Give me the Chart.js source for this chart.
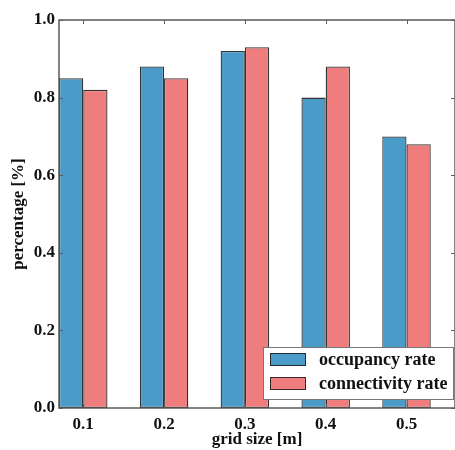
<!DOCTYPE html>
<html>
<head>
<meta charset="UTF-8">
<title>grid size</title>
<script src="https://cdn.jsdelivr.net/npm/chart.js"></script>
<style>
  html, body { margin: 0; padding: 0; background: #fff; overflow: hidden; }
  #wrap { width: 455px; height: 450px; }
</style>
</head>
<body>
<div id="wrap"><canvas id="chart" width="455" height="450"></canvas></div>
<script>
const gridSizes = [0.1, 0.2, 0.3, 0.4, 0.5];
const occupancyRate = [0.85, 0.88, 0.92, 0.80, 0.70];
const connectivityRate = [0.82, 0.85, 0.93, 0.88, 0.68];
const yTickValues = [0, 0.2, 0.4, 0.6, 0.8, 1.0];

const serif = '"Liberation Serif", "Times New Roman", serif';
const blue = '#4a9bc7';
const red = '#f07d7e';
const edge = 'rgba(30,30,30,0.9)';
const spine = '#5a5a5a';

// spines, inward ticks and the boxed legend, matplotlib style
const decor = {
  id: 'decor',
  afterDraw(chart) {
    const { ctx, chartArea: a, scales } = chart;
    ctx.save();
    ctx.strokeStyle = spine;
    ctx.lineWidth = 1.5;
    ctx.strokeRect(a.left, a.top, a.right - a.left, a.bottom - a.top);

    ctx.lineWidth = 1;
    ctx.beginPath();
    scales.x.ticks.forEach(t => {
      const px = Math.round(scales.x.getPixelForValue(t.value)) + 0.5;
      ctx.moveTo(px, a.top); ctx.lineTo(px, a.top + 4);
      ctx.moveTo(px, a.bottom); ctx.lineTo(px, a.bottom - 4);
    });
    scales.y.ticks.forEach(t => {
      const py = Math.round(scales.y.getPixelForValue(t.value)) + 0.5;
      ctx.moveTo(a.left, py); ctx.lineTo(a.left + 4, py);
      ctx.moveTo(a.right, py); ctx.lineTo(a.right - 4, py);
    });
    ctx.stroke();

    // legend box
    const bx = a.right - 192, by = a.bottom - 61, bw = 190, bh = 52;
    ctx.fillStyle = '#fff';
    ctx.fillRect(bx, by, bw, bh);
    ctx.strokeStyle = '#777';
    ctx.lineWidth = 1;
    ctx.strokeRect(bx + 0.5, by + 0.5, bw, bh);
    ctx.font = 'bold 18px ' + serif;
    ctx.textBaseline = 'middle';
    chart.data.datasets.forEach((ds, i) => {
      const ry = by + 6 + i * 24;
      ctx.fillStyle = ds.backgroundColor;
      ctx.fillRect(bx + 7, ry, 36, 13);
      ctx.strokeStyle = edge;
      ctx.strokeRect(bx + 7.5, ry + 0.5, 35, 12);
      ctx.fillStyle = '#111';
      ctx.fillText(ds.label, bx + 56, ry + 7);
    });
    ctx.restore();
  }
};

new Chart(document.getElementById('chart'), {
  type: 'bar',
  data: {
    datasets: [
      {
        label: 'occupancy rate',
        data: gridSizes.map((g, i) => ({ x: g, y: occupancyRate[i] })),
        backgroundColor: blue,
        borderColor: edge,
        borderWidth: 1.3,
        borderSkipped: false
      },
      {
        label: 'connectivity rate',
        data: gridSizes.map((g, i) => ({ x: g, y: connectivityRate[i] })),
        backgroundColor: red,
        borderColor: edge,
        borderWidth: 1.3,
        borderSkipped: false
      }
    ]
  },
  options: {
    responsive: false,
    animation: false,
    categoryPercentage: 0.6,
    barPercentage: 1,
    layout: { padding: { top: 20, right: 0, left: 0, bottom: 0 } },
    plugins: { legend: { display: false }, tooltip: { enabled: false } },
    scales: {
      x: {
        type: 'linear',
        offset: false,
        min: 0.07,
        max: 0.56,
        grid: { display: false, drawTicks: false },
        border: { display: false },
        afterBuildTicks: s => { s.ticks = gridSizes.map(v => ({ value: v })); },
        afterFit: s => { s.height = 42; },
        ticks: {
          padding: 6,
          color: '#111',
          font: { family: serif, size: 17, weight: 'bold' },
          callback: v => Number(v).toFixed(1)
        },
        title: {
          display: true,
          text: 'grid size [m]',
          color: '#111',
          padding: { top: 0, bottom: 0 },
          font: { family: serif, size: 17, weight: 'bold' }
        }
      },
      y: {
        min: 0,
        max: 1,
        grid: { display: false, drawTicks: false },
        border: { display: false },
        afterBuildTicks: s => { s.ticks = yTickValues.map(v => ({ value: v })); },
        afterFit: s => { s.width = 59; },
        ticks: {
          padding: 4,
          color: '#111',
          font: { family: serif, size: 17, weight: 'bold' },
          callback: v => Number(v).toFixed(1)
        },
        title: {
          display: true,
          text: 'percentage [%]',
          color: '#111',
          padding: { top: 8, bottom: 0 },
          font: { family: serif, size: 17, weight: 'bold' }
        }
      }
    }
  },
  plugins: [decor]
});
</script>
</body>
</html>
